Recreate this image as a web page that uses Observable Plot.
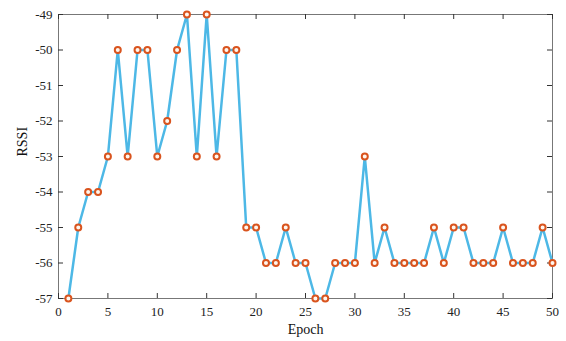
<!DOCTYPE html>
<html>
<head>
<meta charset="utf-8">
<script src="https://cdn.jsdelivr.net/npm/d3@7"></script>
<script src="https://cdn.jsdelivr.net/npm/@observablehq/plot@0.6"></script>
<style>
  html, body { margin: 0; padding: 0; background: #fff; }
</style>
</head>
<body>
<div id="chart"></div>
<script>
// RSSI reading per training epoch
const epochs = d3.range(1, 51);
const rssi = [
  -57, -55, -54, -54, -53, -50, -53, -50, -50, -53,
  -52, -50, -49, -53, -49, -53, -50, -50, -55, -55,
  -56, -56, -55, -56, -56, -57, -57, -56, -56, -56,
  -53, -56, -55, -56, -56, -56, -56, -55, -56, -55,
  -55, -56, -56, -56, -55, -56, -56, -56, -55, -56
];
const xTicks = [0, 5, 10, 15, 20, 25, 30, 35, 40, 45, 50];
const yTicks = [-57, -56, -55, -54, -53, -52, -51, -50, -49];

const data = epochs.map((e, i) => ({epoch: e, rssi: rssi[i]}));

const W = 566, H = 341;
const mt = 14, mb = 43, ml = 58, mr = 14;
const innerH = H - mt - mb;
const innerW = W - ml - mr;
const tickLen = 5;
const axisColor = "#333";
const font = "'Liberation Serif', 'Times New Roman', serif";
const plain = d => String(d); // ASCII hyphen for negatives

const chart = Plot.plot({
  width: W,
  height: H,
  marginTop: mt,
  marginBottom: mb,
  marginLeft: ml,
  marginRight: mr,
  style: {fontFamily: font, fontSize: "13px", color: "#222", background: "#fff"},
  x: {domain: [0, 50]},
  y: {domain: [-57, -49]},
  marks: [
    Plot.frame({stroke: "#777", strokeWidth: 1}),
    // inward tick marks on all four sides
    Plot.tickX(xTicks, {x: d => d, insetTop: innerH - tickLen, stroke: axisColor}),
    Plot.tickX(xTicks, {x: d => d, insetBottom: innerH - tickLen, stroke: axisColor}),
    Plot.tickY(yTicks, {y: d => d, insetRight: innerW - tickLen, stroke: axisColor}),
    Plot.tickY(yTicks, {y: d => d, insetLeft: innerW - tickLen, stroke: axisColor}),
    Plot.axisX(xTicks, {tickSize: 0, tickPadding: 8, fontSize: 13, fill: "#222", label: null, tickFormat: plain}),
    Plot.axisY(yTicks, {tickSize: 0, tickPadding: 6, fontSize: 13, fill: "#222", label: null, tickFormat: plain}),
    Plot.text(["Epoch"], {frameAnchor: "bottom", dy: 35, fontSize: 14, fill: "#111"}),
    Plot.text(["RSSI"], {frameAnchor: "left", dx: -36, rotate: -90, fontSize: 14, fill: "#111"}),
    Plot.line(data, {x: "epoch", y: "rssi", stroke: "#4db8e6", strokeWidth: 2.5}),
    Plot.dot(data, {x: "epoch", y: "rssi", r: 3, stroke: "#d9541e", strokeWidth: 2, fill: "#fff6ee"})
  ]
});

document.getElementById("chart").appendChild(chart);
</script>
</body>
</html>
